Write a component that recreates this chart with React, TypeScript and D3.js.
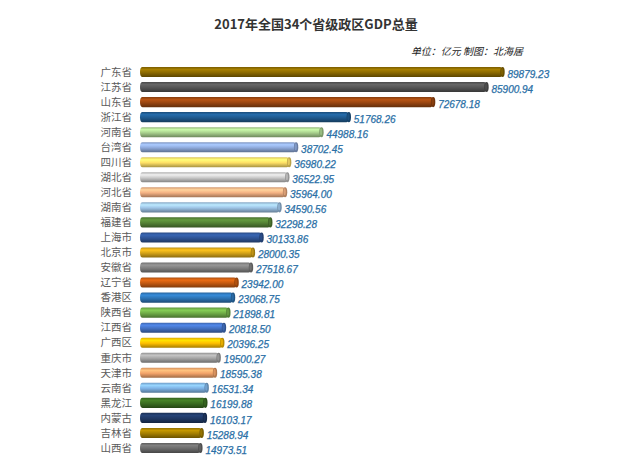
import React from 'react';
import * as d3 from 'd3';

const provinces = [
  '广东省', '江苏省', '山东省', '浙江省', '河南省', '台湾省', '四川省', '湖北省', '河北省',
  '湖南省', '福建省', '上海市', '北京市', '安徽省', '辽宁省', '香港区', '陕西省', '江西省',
  '广西区', '重庆市', '天津市', '云南省', '黑龙江', '内蒙古', '吉林省', '山西省',
];

const gdp = [
  89879.23, 85900.94, 72678.18, 51768.26, 44988.16, 38702.45, 36980.22, 36522.95, 35964.0,
  34590.56, 32298.28, 30133.86, 28000.35, 27518.67, 23942.0, 23068.75, 21898.81, 20818.5,
  20396.25, 19500.27, 18595.38, 16531.34, 16199.88, 16103.17, 15288.94, 14973.51,
];

const barColors = [
  '#8c6a00', '#555555', '#9a4610', '#1f5a8f', '#a9d18e', '#8faadc', '#ffe066', '#c9c9c9', '#f4b183',
  '#9dc3e6', '#548235', '#2f5597', '#d6a418', '#7f7f7f', '#c55a11', '#2e75b6', '#70ad47', '#4472c4',
  '#ffc000', '#a5a5a5', '#f4a46a', '#7fb3e6', '#3b6e22', '#1f3864', '#a57f00', '#6b6b6b',
];

const title = '2017年全国34个省级政区GDP总量';
const subtitle = '单位：亿元  制图：北海居';

export default function App() {
  const width = 640;
  const height = 457;

  const x = d3.scaleLinear().domain([0, 90000]).range([140, 503]);
  // bands centred on each step, first row centred at y=72, last at ~448
  const y = d3.scaleBand<string>().domain(provinces).range([64.5, 455.5])
    .paddingInner(0.33).paddingOuter(0.165);
  const bh = y.bandwidth();

  return (
    <svg width={width} height={height} style={{ position: 'absolute', left: 0, top: 0 }}>
      <defs>
        {barColors.map((c, i) => {
          const base = d3.color(c)!;
          return (
            <linearGradient key={i} id={`g${i}`} x1="0" y1="0" x2="0" y2="1">
              <stop offset="0%" stopColor={base.darker(0.4).formatHex()} />
              <stop offset="25%" stopColor={base.brighter(0.5).formatHex()} />
              <stop offset="55%" stopColor={c} />
              <stop offset="100%" stopColor={base.darker(1.2).formatHex()} />
            </linearGradient>
          );
        })}
      </defs>
      <rect width={width} height={height} fill="#ffffff" />
      <text x={316} y={29} textAnchor="middle" fontSize={13} fontWeight="bold"
        fontFamily="'Noto Sans CJK SC', sans-serif" fill="#333">{title}</text>
      <text x={467} y={55} textAnchor="middle" fontSize={10} fontStyle="italic"
        fontFamily="'Noto Sans CJK SC', sans-serif" fill="#222">{subtitle}</text>
      {provinces.map((p, i) => {
        const y0 = y(p)!;
        const x1 = x(gdp[i]);
        const base = d3.color(barColors[i])!;
        return (
          <g key={p}>
            <text x={132} y={y0 + bh / 2} dy="0.36em" textAnchor="end" fontSize={10.5}
              fontFamily="'Noto Sans CJK SC', sans-serif" fill="#5a5a5a">{p}</text>
            <rect x={x(0)} y={y0} width={x1 - x(0)} height={bh} rx={2.5} ry={bh / 2}
              fill={`url(#g${i})`} />
            <ellipse cx={x1} cy={y0 + bh / 2} rx={2.2} ry={bh / 2}
              fill={base.darker(0.9).formatHex()} />
            <ellipse cx={x1 - 0.4} cy={y0 + bh / 2 - 0.5} rx={1.2} ry={bh / 2 - 1.5}
              fill={base.darker(0.3).formatHex()} />
            <text x={x1 + 5} y={y0 + bh / 2 + 2} dy="0.36em" fontSize={10} fontStyle="italic"
              fontFamily="'Liberation Sans', Arial, sans-serif" fill="#2a6fa6"
              stroke="#2a6fa6" strokeWidth={0.25}>{gdp[i].toFixed(2)}</text>
          </g>
        );
      })}
    </svg>
  );
}
